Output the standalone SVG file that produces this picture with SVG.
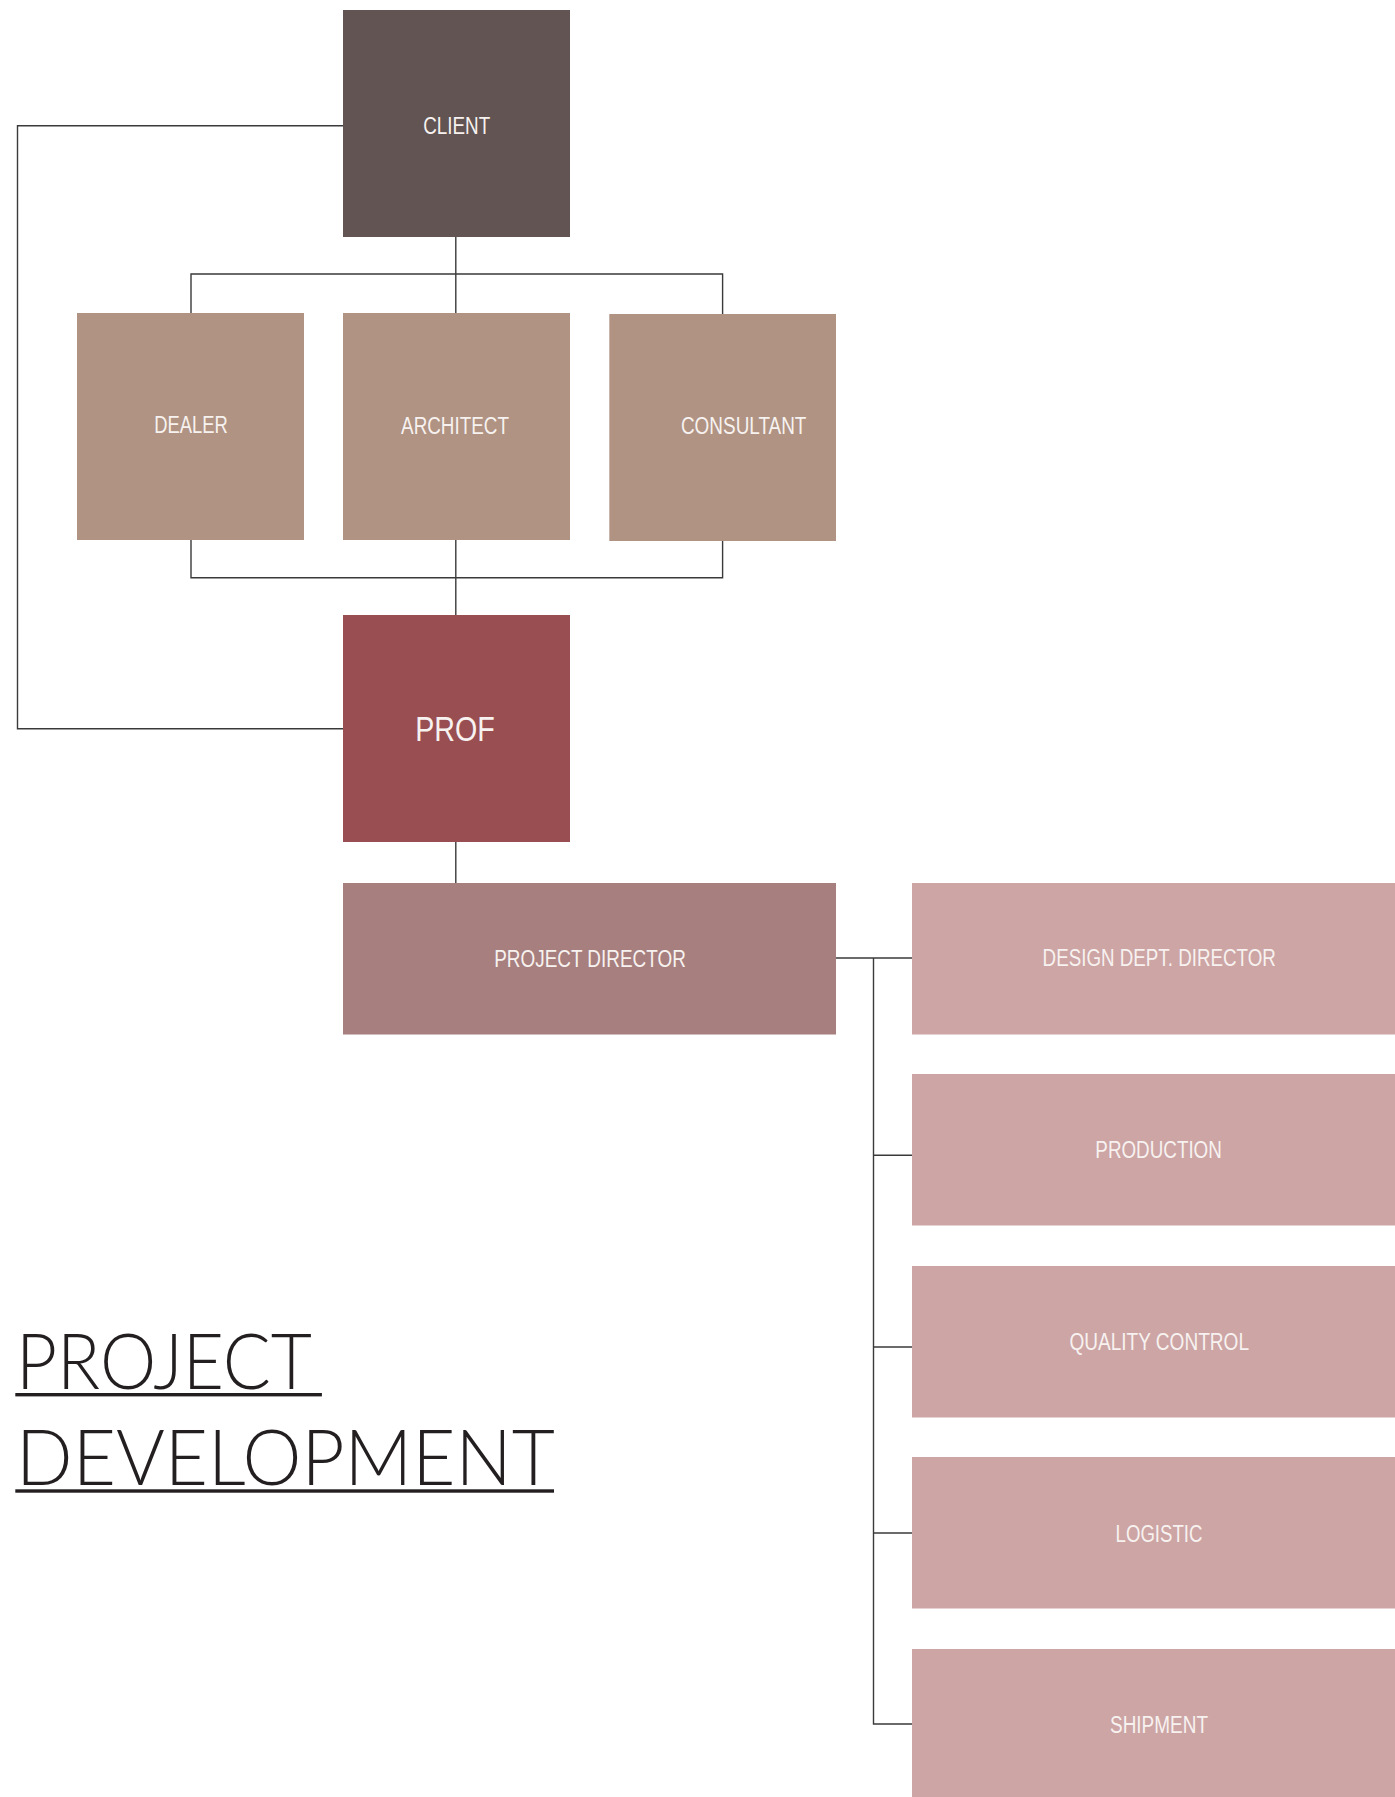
<svg xmlns="http://www.w3.org/2000/svg" width="1395" height="1797" viewBox="0 0 1395 1797">
<style>
.lbl{font-family:"Liberation Sans",Arial,sans-serif;fill:#F7F2F0;text-anchor:middle;font-size:23px}
.big{font-family:"Lato","Open Sans",sans-serif;font-weight:300;fill:#231F20;font-size:76px}
.con{fill:none;stroke:#3a3a3a;stroke-width:1.4}
.c{fill:#615452}.b{fill:#B09382}.p{fill:#994F52}.d{fill:#A77F7E}.r{fill:#CDA5A5}
</style>
<rect width="1395" height="1797" fill="#FFFFFF"/>
<g id="connectors" class="con">
<polyline points="343,125.7 17.5,125.7 17.5,728.7 343,728.7"/>
<line x1="455.8" y1="237" x2="455.8" y2="313"/>
<polyline points="191,313 191,274 722.6,274 722.6,314"/>
<polyline points="191,540 191,577.7 722.6,577.7 722.6,541"/>
<line x1="455.8" y1="540" x2="455.8" y2="615"/>
<line x1="455.8" y1="842" x2="455.8" y2="883"/>
<line x1="836" y1="958" x2="912" y2="958"/>
<polyline points="873.5,958 873.5,1724 912,1724"/>
<line x1="873.5" y1="1155.3" x2="912" y2="1155.3"/>
<line x1="873.5" y1="1347" x2="912" y2="1347"/>
<line x1="873.5" y1="1533" x2="912" y2="1533"/>
</g>
<g id="client"><rect class="c" x="343" y="10" width="227" height="227"/><text class="lbl" x="456.7" y="134.3" textLength="67" lengthAdjust="spacingAndGlyphs">CLIENT</text></g>
<g id="dealer"><rect class="b" x="77" y="313" width="227" height="227"/><text class="lbl" x="191" y="433.3" textLength="73.5" lengthAdjust="spacingAndGlyphs">DEALER</text></g>
<g id="architect"><rect class="b" x="343" y="313" width="227" height="227"/><text class="lbl" x="455" y="434.3" textLength="107.8" lengthAdjust="spacingAndGlyphs">ARCHITECT</text></g>
<g id="consultant"><rect class="b" x="609.3" y="314" width="226.7" height="227"/><text class="lbl" x="743.7" y="434.3" textLength="125.5" lengthAdjust="spacingAndGlyphs">CONSULTANT</text></g>
<g id="prof"><rect class="p" x="343" y="615" width="227" height="227"/><text class="lbl" x="455" y="740.7" style="font-size:35px" textLength="79.6" lengthAdjust="spacingAndGlyphs">PROF</text></g>
<g id="project-director"><rect class="d" x="343" y="883" width="493" height="151.5"/><text class="lbl" x="590" y="966.7" textLength="191.6" lengthAdjust="spacingAndGlyphs">PROJECT DIRECTOR</text></g>
<g id="design-dept-director"><rect class="r" x="912" y="883" width="494" height="151.5"/><text class="lbl" x="1159.2" y="966" textLength="233.2" lengthAdjust="spacingAndGlyphs">DESIGN DEPT. DIRECTOR</text></g>
<g id="production"><rect class="r" x="912" y="1074" width="494" height="151.5"/><text class="lbl" x="1158.6" y="1157.7" textLength="126.5" lengthAdjust="spacingAndGlyphs">PRODUCTION</text></g>
<g id="quality-control"><rect class="r" x="912" y="1266" width="494" height="151.5"/><text class="lbl" x="1159.2" y="1350" textLength="179.6" lengthAdjust="spacingAndGlyphs">QUALITY CONTROL</text></g>
<g id="logistic"><rect class="r" x="912" y="1457" width="494" height="151.5"/><text class="lbl" x="1159" y="1542.3" textLength="86.9" lengthAdjust="spacingAndGlyphs">LOGISTIC</text></g>
<g id="shipment"><rect class="r" x="912" y="1649" width="494" height="151.5"/><text class="lbl" x="1159" y="1733.3" textLength="98" lengthAdjust="spacingAndGlyphs">SHIPMENT</text></g>
<g id="title">
<text class="big" x="16" y="1389.3" textLength="296" lengthAdjust="spacingAndGlyphs">PROJECT</text>
<rect x="15.3" y="1393" width="306.6" height="3.4" fill="#231F20"/>
<text class="big" x="16" y="1485" textLength="539" lengthAdjust="spacingAndGlyphs">DEVELOPMENT</text>
<rect x="15.3" y="1489.3" width="538.7" height="3.4" fill="#231F20"/>
</g>
</svg>
